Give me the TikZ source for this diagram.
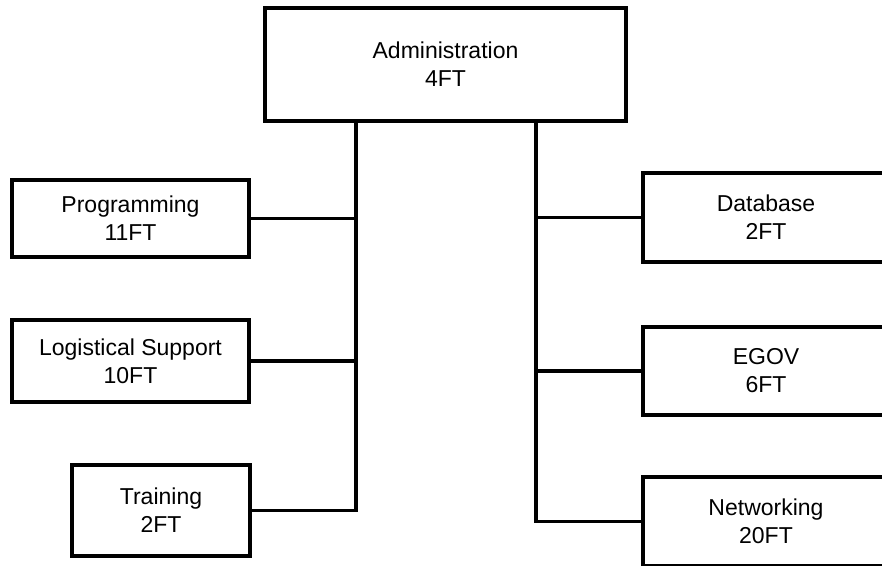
\documentclass[tikz,border=0pt]{standalone}
\usepackage{fontspec}
\setmainfont{Liberation Sans}
\usetikzlibrary{calc}

\begin{document}
\begin{tikzpicture}[x=1pt, y=-1pt, line width=3.3pt,
    unit/.style={draw, rectangle, align=center, inner sep=0pt,
        font=\fontsize{23}{28}\selectfont}]
    \clip (0,0) rectangle (882,565);
    \node [unit, minimum width=361pt, minimum height=113pt] (admin) at (445.5,64.5) {Administration\\4FT};
    % left side
    \node [unit, minimum width=237pt, minimum height=77pt] (prog) at (130.5,218.5) {Programming\\11FT};
    \node [unit, minimum width=237pt, minimum height=82pt] (logi) at (130.5,361) {Logistical Support\\10FT};
    \node [unit, minimum width=178pt, minimum height=91pt] (train) at (161,510.5) {Training\\2FT};
    % right side
    \node [unit, minimum width=246pt, minimum height=89pt] (db) at (766,217.5) {Database\\2FT};
    \node [unit, minimum width=246pt, minimum height=88pt] (egov) at (766,371) {EGOV\\6FT};
    \node [unit, minimum width=246pt, minimum height=89pt] (net) at (766,521.5) {Networking\\20FT};
    \coordinate (ltop) at ([xshift=-89.5pt]admin.south);
    \coordinate (rtop) at ([xshift=90.5pt]admin.south);
    \draw (ltop) |- (train.east);
    \draw (prog.east) -- (prog.east -| ltop);
    \draw (logi.east) -- (logi.east -| ltop);
    \draw (rtop) |- (net.west);
    \draw (db.west) -- (db.west -| rtop);
    \draw (egov.west) -- (egov.west -| rtop);
\end{tikzpicture}
\end{document}
